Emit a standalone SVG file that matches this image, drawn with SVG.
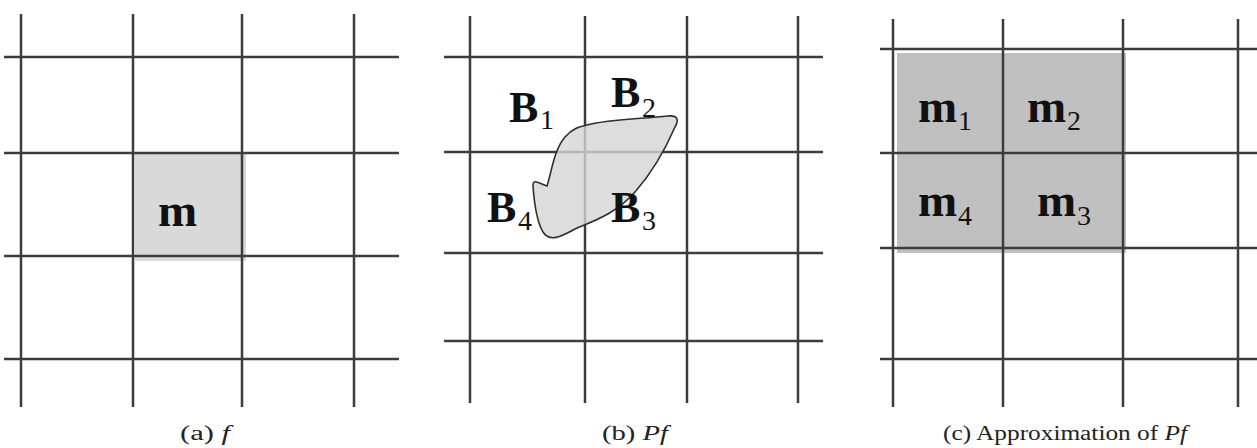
<svg xmlns="http://www.w3.org/2000/svg" width="1257" height="448" viewBox="0 0 1257 448">
<style>
.g{stroke:#3c3c3c;stroke-width:2.5;fill:none;stroke-linecap:butt}
.lb{font-family:"Liberation Serif","Times New Roman",serif;font-weight:bold;fill:#111}
.big{font-size:44px}
.mm{font-size:47px}
.sub{font-size:28px;font-weight:normal}
.cap{font-family:"Liberation Serif","Times New Roman",serif;font-size:20px;fill:#222}
</style>
<rect width="1257" height="448" fill="#fff"/>
<!-- Panel a -->
<g id="panel-a">
  <rect id="cell-m" x="135" y="153" width="111" height="108" fill="#d9d9d9"/>
  <g id="grid-a" class="g">
    <path d="M21 14V407M133 14V407M242 14V407M354 14V407"/>
    <path d="M4 57H399M4 153H399M4 256H399M4 359H399"/>
  </g>
  <g id="label-m"><text class="lb mm" x="158" y="226">m</text></g>
  <text class="cap" x="180" y="440" textLength="50" lengthAdjust="spacingAndGlyphs">(a) <tspan font-style="italic">f</tspan></text>
</g>
<!-- Panel b -->
<g id="panel-b">
  <g id="grid-b" class="g">
    <path d="M470 16V403M585 16V403M687 16V403M798 16V403"/>
    <path d="M444 57H823M444 152H823M444 253H823M444 341H823"/>
  </g>
  <g id="blob">
    <path d="M587 125C610 119 640 119 668 116C678 115 679 120 675 127C665 150 650 175 635 192C615 215 590 222 575 229C562 236 550 243 543 232C537 222 534 200 533 186C533 178 538 183 547 186C552 170 554 150 565 137C572 129 578 127 587 125Z" fill="#d4d4d4" fill-opacity="0.8" stroke="#2e2e2e" stroke-width="1.6"/>
  </g>
  <g id="label-B1"><text class="lb big" x="509" y="122">B<tspan class="sub" x="540" y="129">1</tspan></text></g>
  <g id="label-B2"><text class="lb big" x="611" y="107">B<tspan class="sub" x="642" y="117">2</tspan></text></g>
  <g id="label-B4"><text class="lb big" x="487" y="222">B<tspan class="sub" x="518" y="230">4</tspan></text></g>
  <g id="label-B3"><text class="lb big" x="611" y="222">B<tspan class="sub" x="642" y="230">3</tspan></text></g>
  <text class="cap" x="602" y="440" textLength="66" lengthAdjust="spacingAndGlyphs">(b) <tspan font-style="italic">Pf</tspan></text>
</g>
<!-- Panel c -->
<g id="panel-c">
  <rect id="approx" x="897" y="53" width="229" height="200" fill="#c0c0c0"/>
  <g id="grid-c" class="g">
    <path d="M893 19V407M1003 19V407M1123 19V407M1238 19V407"/>
    <path d="M880 49H1257M880 153H1257M880 248H1257M880 359H1257"/>
  </g>
  <g id="label-m1"><text class="lb mm" x="918" y="122">m<tspan class="sub" x="958" y="130">1</tspan></text></g>
  <g id="label-m2"><text class="lb mm" x="1027" y="122">m<tspan class="sub" x="1067" y="130">2</tspan></text></g>
  <g id="label-m4"><text class="lb mm" x="918" y="216">m<tspan class="sub" x="958" y="225">4</tspan></text></g>
  <g id="label-m3"><text class="lb mm" x="1037" y="216">m<tspan class="sub" x="1077" y="225">3</tspan></text></g>
  <text class="cap" x="943" y="440" textLength="244" lengthAdjust="spacingAndGlyphs">(c) Approximation of <tspan font-style="italic">Pf</tspan></text>
</g>
</svg>
